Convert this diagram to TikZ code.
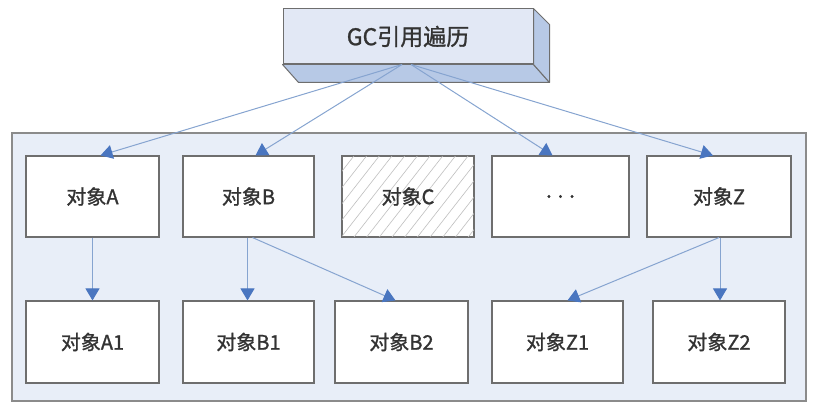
\documentclass[tikz,border=0pt]{standalone}
\usepackage{fontspec}
\setmainfont{Noto Sans CJK SC}[FakeBold=1.2]
\usetikzlibrary{arrows.meta,patterns.meta,calc}
\definecolor{cont}{HTML}{E8EEF8}
\definecolor{boxline}{HTML}{6E6E6E}
\definecolor{arrline}{HTML}{86A4D0}
\definecolor{arrhead}{HTML}{4A76C0}
\definecolor{gcfront}{HTML}{E2E8F5}
\definecolor{gcside}{HTML}{B7C9E6}
\definecolor{txt}{HTML}{333333}
\tikzset{
  objbox/.style={draw=boxline, line width=1.1pt, fill=white, inner sep=0pt,
    minimum height=81pt, text=txt, font=\fontsize{20}{20}\selectfont},
  conn/.style={draw=arrline, line width=1pt,
    -{Triangle[length=12pt,width=14pt,fill=arrhead,color=arrhead]}},
}
\begin{document}
\begin{tikzpicture}[x=1pt,y=-1pt]
\useasboundingbox (0,0) rectangle (818,414);
% container
\node[draw=boxline!80, line width=1.1pt, fill=cont, inner sep=0pt,
  minimum width=794pt, minimum height=268pt] (cont) at (409,267) {};
% top box
\node[draw=boxline, line width=1pt, fill=gcfront, inner sep=0pt,
  minimum width=250pt, minimum height=55pt, text=txt,
  font=\fontsize{23}{23}\selectfont] (gc) at (408,36.5) {GC引用遍历};
\fill[gcside, draw=boxline, line width=1pt, line join=round]
  (gc.south west) -- (gc.south east) -- ++(16,18) -- ($(gc.south west)+(16,18)$) -- cycle;
\fill[gcside, draw=boxline, line width=1pt, line join=round]
  (gc.north east) -- ++(16,16) -- ($(gc.south east)+(16,18)$) -- (gc.south east) -- cycle;
% top row
\node[objbox, minimum width=133pt] (a) at (92.5,196.5) {对象A};
\node[objbox, minimum width=131pt] (b) at (248.5,196.5) {对象B};
\node[objbox, minimum width=132pt,
  postaction={pattern={Lines[angle=52,distance=10pt,line width=0.6pt]},pattern color=black!25}] (c) at (408,196.5) {};
\node[text=txt, font=\fontsize{20}{20}\selectfont] at (c) {对象C};
\draw[boxline, line width=1.1pt] (c.south west) rectangle (c.north east);
\node[objbox, minimum width=137pt] (d) at (560.5,196.5) {. . .};
\node[objbox, minimum width=144pt] (z) at (719,196.5) {对象Z};
% bottom row
\node[objbox, minimum width=133pt, minimum height=82pt] (a1) at (92.5,342) {对象A1};
\node[objbox, minimum width=131pt, minimum height=82pt] (b1) at (248.5,342) {对象B1};
\node[objbox, minimum width=133pt, minimum height=82pt] (b2) at (401.5,342) {对象B2};
\node[objbox, minimum width=131pt, minimum height=82pt] (z1) at (557.5,342) {对象Z1};
\node[objbox, minimum width=132pt, minimum height=82pt] (z2) at (719,342) {对象Z2};
% start coordinates at the top box
\coordinate (gcl) at ($(gc.south)+(-6,0)$);
\coordinate (gcr) at ($(gc.south)+(3,0)$);
% connectors
\draw[conn] (gcl) -- ([xshift=8pt]a.north);
\draw[conn] (gcl) -- ([xshift=7pt]b.north);
\draw[conn] (gcr) -- ([xshift=-8pt]d.north);
\draw[conn] (gcr) -- ([xshift=-6pt]z.north);
\draw[conn] (a.south) -- (a1.north);
\draw[conn] ([xshift=-1pt]b.south) -- ([xshift=-1pt]b1.north);
\draw[conn] ([xshift=4pt]b.south) -- ([xshift=-6pt]b2.north);
\draw[conn] (z.south) -- ([xshift=10pt]z1.north);
\draw[conn] ([xshift=1pt]z.south) -- ([xshift=1pt]z2.north);
\end{tikzpicture}
\end{document}
